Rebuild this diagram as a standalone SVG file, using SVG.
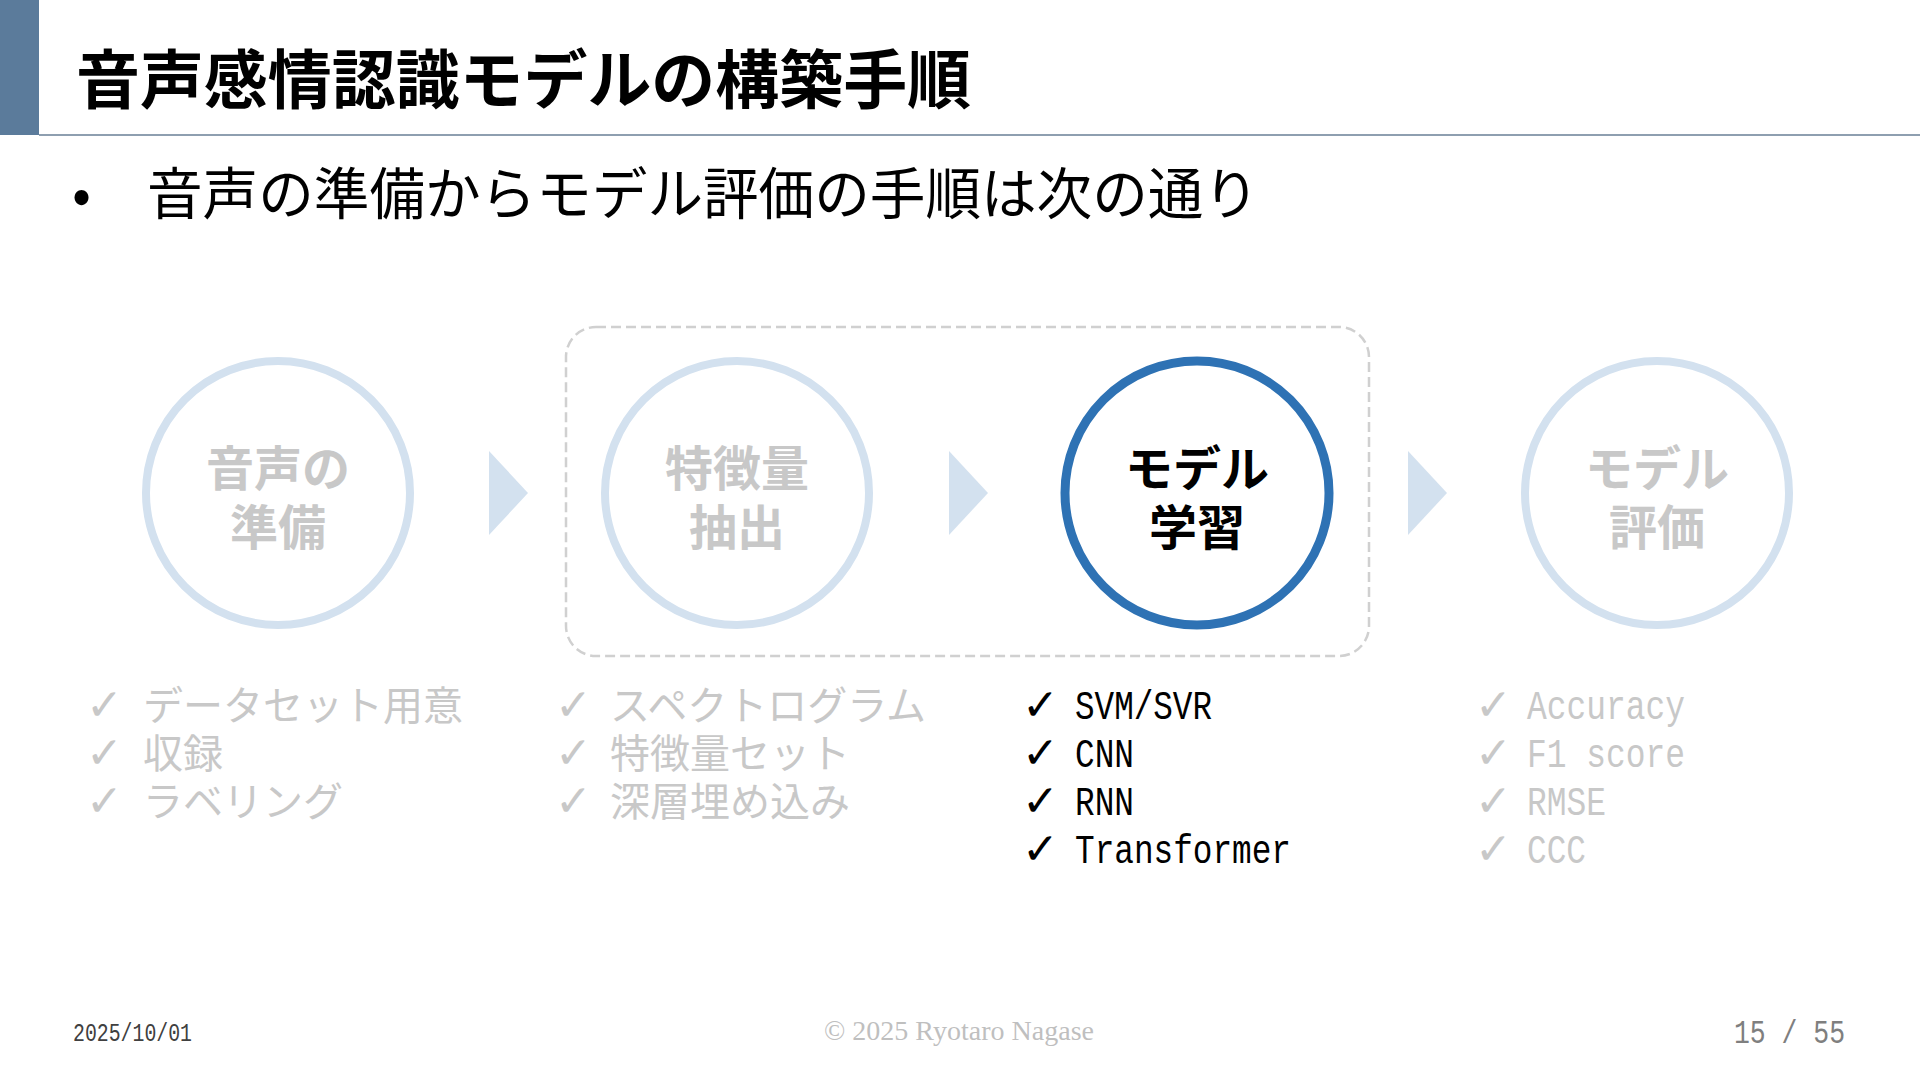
<svg xmlns="http://www.w3.org/2000/svg" width="1920" height="1080" viewBox="0 0 1920 1080">
<style>
.jp{font-family:"Noto Sans CJK JP","Noto Sans",sans-serif}
.title{font-size:64px;font-weight:700;fill:#000}
.sub{font-size:56px;font-weight:400;fill:#000}
.ring{fill:#fff;stroke:#d3e1ef;stroke-width:8}
.ringA{fill:#fff;stroke:#2e72b4;stroke-width:9}
.lbl{font-size:48px;font-weight:700;text-anchor:middle;fill:#c8c8c8}
.lblA{fill:#000}
.item{font-size:40px;fill:#c8c8c8}
.mono{font-family:"Liberation Mono",monospace}
.chk{font-family:"DejaVu Sans",sans-serif;font-size:44px;fill:#c8c8c8}
.on{fill:#000}
.arrow{fill:#d3e1ef}
</style>
<rect width="1920" height="1080" fill="#fff"/>
<g id="header">
<rect x="0" y="0" width="39" height="135" fill="#5b7b9b"/>
<rect x="39" y="134" width="1881" height="2" fill="#8e9fb0"/>
<text class="jp title" x="76" y="103" textLength="895" lengthAdjust="spacingAndGlyphs">音声感情認識モデルの構築手順</text>
</g>
<g id="bullet">
<text class="jp sub" x="72" y="214">•</text>
<text class="jp sub" x="147" y="214" textLength="1112" lengthAdjust="spacingAndGlyphs">音声の準備からモデル評価の手順は次の通り</text>
</g>
<g id="group-box">
<rect x="566" y="327" width="803" height="329" rx="30" ry="30" fill="none" stroke="#d0d0d0" stroke-width="2.5" stroke-dasharray="10 5"/>
</g>
<g id="connectors">
<polygon class="arrow" points="489,451 528,493 489,535"/>
<polygon class="arrow" points="949,451 988,493 949,535"/>
<polygon class="arrow" points="1408,451 1447,493 1408,535"/>
</g>
<g id="step1">
<circle class="ring" cx="278" cy="493" r="132"/>
<text class="jp lbl" x="278" y="486">音声の</text>
<text class="jp lbl" x="278" y="545">準備</text>
</g>
<g id="step2">
<circle class="ring" cx="737" cy="493" r="132"/>
<text class="jp lbl" x="737" y="486">特徴量</text>
<text class="jp lbl" x="737" y="545">抽出</text>
</g>
<g id="step3">
<circle class="ringA" cx="1197" cy="493" r="132"/>
<text class="jp lbl lblA" x="1197" y="486">モデル</text>
<text class="jp lbl lblA" x="1197" y="545">学習</text>
</g>
<g id="step4">
<circle class="ring" cx="1657" cy="493" r="132"/>
<text class="jp lbl" x="1657" y="486">モデル</text>
<text class="jp lbl" x="1657" y="545">評価</text>
</g>
<g id="list1">
<text class="chk" x="86" y="720">✓</text>
<text class="jp item" x="143" y="720">データセット用意</text>
<text class="chk" x="86" y="768">✓</text>
<text class="jp item" x="143" y="768">収録</text>
<text class="chk" x="86" y="816">✓</text>
<text class="jp item" x="143" y="816">ラベリング</text>
</g>
<g id="list2">
<text class="chk" x="555" y="720">✓</text>
<text class="jp item" x="610" y="720">スペクトログラム</text>
<text class="chk" x="555" y="768">✓</text>
<text class="jp item" x="610" y="768">特徴量セット</text>
<text class="chk" x="555" y="816">✓</text>
<text class="jp item" x="610" y="816">深層埋め込み</text>
</g>
<g id="list3">
<text class="chk on" x="1022" y="720">✓</text>
<text class="mono item on" x="1075" y="719" textLength="137" lengthAdjust="spacingAndGlyphs">SVM/SVR</text>
<text class="chk on" x="1022" y="768">✓</text>
<text class="mono item on" x="1075" y="767" textLength="59" lengthAdjust="spacingAndGlyphs">CNN</text>
<text class="chk on" x="1022" y="816">✓</text>
<text class="mono item on" x="1075" y="815" textLength="59" lengthAdjust="spacingAndGlyphs">RNN</text>
<text class="chk on" x="1022" y="864">✓</text>
<text class="mono item on" x="1075" y="863" textLength="216" lengthAdjust="spacingAndGlyphs">Transformer</text>
</g>
<g id="list4">
<text class="chk" x="1475" y="720">✓</text>
<text class="mono item" x="1527" y="719" textLength="158" lengthAdjust="spacingAndGlyphs">Accuracy</text>
<text class="chk" x="1475" y="768">✓</text>
<text class="mono item" x="1527" y="767" textLength="158" lengthAdjust="spacingAndGlyphs">F1 score</text>
<text class="chk" x="1475" y="816">✓</text>
<text class="mono item" x="1527" y="815" textLength="79" lengthAdjust="spacingAndGlyphs">RMSE</text>
<text class="chk" x="1475" y="864">✓</text>
<text class="mono item" x="1527" y="863" textLength="59" lengthAdjust="spacingAndGlyphs">CCC</text>
</g>
<g id="footer">
<text class="mono" x="73" y="1041" font-size="26" fill="#404040" textLength="119" lengthAdjust="spacingAndGlyphs">2025/10/01</text>
<text x="824" y="1040" font-family="Liberation Serif,serif" font-size="28" fill="#bfbfbf" textLength="270" lengthAdjust="spacingAndGlyphs">© 2025 Ryotaro Nagase</text>
<text class="mono" x="1734" y="1043" font-size="34" fill="#7f7f7f" textLength="111" lengthAdjust="spacingAndGlyphs">15 / 55</text>
</g>
</svg>
